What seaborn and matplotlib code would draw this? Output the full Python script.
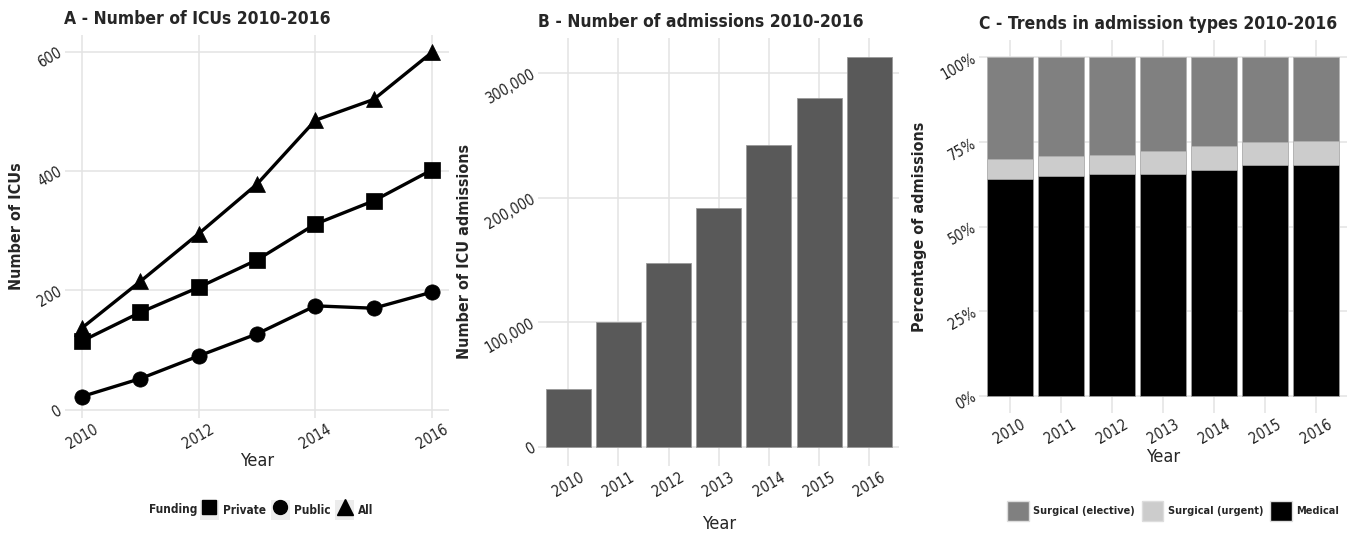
import numpy as np
import pandas as pd
import matplotlib
matplotlib.use("Agg")
import matplotlib.pyplot as plt
from matplotlib.patches import Rectangle
from matplotlib.lines import Line2D
from matplotlib.legend_handler import HandlerTuple
from matplotlib.ticker import FuncFormatter
import seaborn as sns

# ---- data ----
years = [2010, 2011, 2012, 2013, 2014, 2015, 2016]
funding_levels = ["Private", "Public", "All"]
icus_private = [115, 163, 205, 251, 311, 350, 402]
icus_public = [22, 52, 90, 127, 174, 170, 197]
icus_all = [137, 215, 295, 378, 485, 520, 599]

admissions = [46400, 100500, 147400, 192000, 242400, 280500, 313000]

admission_types = ["Surgical (elective)", "Surgical (urgent)", "Medical"]
pct_medical = [64.1, 65.0, 65.5, 65.5, 66.7, 68.3, 68.3]
pct_urgent = [5.9, 5.9, 5.7, 6.8, 7.2, 6.7, 7.0]
pct_elective = [30.0, 29.1, 28.8, 27.7, 26.1, 25.0, 24.7]

# ---- style ----
sns.set_theme(style="whitegrid")
plt.rcParams["font.family"] = ["DejaVu Sans"]
plt.rcParams["font.stretch"] = "condensed"
GRID = "#e3e3e3"
TICK = "#222222"
plt.rcParams.update({
    "grid.color": GRID,
    "grid.linewidth": 1.1,
    "axes.edgecolor": "white",
    "xtick.color": TICK,
    "ytick.color": TICK,
})

W, H = 1349, 533
fig = plt.figure(figsize=(W / 100, H / 100), dpi=100)


def px_axes(left, top, right, bottom):
    return fig.add_axes([left / W, 1 - bottom / H, (right - left) / W, (bottom - top) / H])


axA = px_axes(64.5, 35, 449.5, 418)
axB = px_axes(538, 37.7, 899.4, 466)
axC = px_axes(979, 40.4, 1347, 413)

TITLE_KW = dict(loc="left", fontsize=12.5, fontweight="bold", pad=8)
YLAB_KW = dict(fontsize=11.5, fontweight="bold")
XLAB_KW = dict(fontsize=13)


def style_ticks(ax):
    ax.tick_params(axis="both", length=0, labelsize=10.5, pad=3)
    for lab in ax.get_yticklabels():
        lab.set_rotation(30)
        lab.set_ha("right")
        lab.set_va("center")
        lab.set_rotation_mode("anchor")
    for lab in ax.get_xticklabels():
        lab.set_rotation(30)
        lab.set_ha("center")
        lab.set_va("top")
    for s in ax.spines.values():
        s.set_visible(False)


# ---- A: number of ICUs ----
icu_df = pd.DataFrame({
    "Year": years * 3,
    "ICUs": icus_private + icus_public + icus_all,
    "Funding": np.repeat(funding_levels, len(years)),
})
marker_map = {"Private": "s", "Public": "o", "All": "^"}
sns.lineplot(data=icu_df, x="Year", y="ICUs", style="Funding", style_order=funding_levels,
             markers=marker_map, dashes=False, color="black", linewidth=2.4,
             markersize=11, markeredgecolor="black", markeredgewidth=0.5,
             legend=False, ax=axA)
axA.set_xlim(2009.7, 2016.3)
axA.set_ylim(-14, 628)
axA.set_xticks([2010, 2012, 2014, 2016])
axA.set_yticks([0, 200, 400, 600])
axA.set_title("A - Number of ICUs 2010-2016", **TITLE_KW)
axA.set_ylabel("Number of ICUs", labelpad=8, **YLAB_KW)
axA.set_xlabel("Year", labelpad=0, **XLAB_KW)
style_ticks(axA)

key_bg = "#ececec"
handlesA = []
for lvl in funding_levels:
    bg = Rectangle((0, 0), 1, 1, facecolor=key_bg, edgecolor="none")
    mk = Line2D([], [], linestyle="none", marker=marker_map[lvl], color="black",
                markersize=10 if lvl != "All" else 12)
    handlesA.append((bg, mk))
fig.text(197 / W, 1 - 510 / H, "Funding", fontsize=8.5, fontweight="bold", va="center", ha="right")
fig.legend(handlesA, funding_levels, loc="center left", bbox_to_anchor=(200 / W, 1 - 510 / H),
           ncol=3, frameon=False, handler_map={tuple: HandlerTuple(ndivide=1)},
           handlelength=1.6, handleheight=2.1, handletextpad=0.35, columnspacing=0.4,
           borderpad=0, borderaxespad=0,
           prop={"size": 8.5, "weight": "bold"})

# ---- B: number of admissions ----
year_labels = [str(y) for y in years]
adm_df = pd.DataFrame({"Year": year_labels, "Admissions": admissions})
sns.barplot(data=adm_df, x="Year", y="Admissions", color="#595959", saturation=1,
            width=0.9, edgecolor="#9a9a9a", linewidth=0.6, ax=axB)
axB.xaxis.grid(True)
axB.set_axisbelow(True)
axB.set_xlim(-0.6, 6.6)
axB.set_ylim(-15650, 328650)
axB.set_yticks([0, 100000, 200000, 300000])
axB.yaxis.set_major_formatter(FuncFormatter(lambda v, p: f"{int(v):,}"))
axB.set_title("B - Number of admissions 2010-2016", **TITLE_KW)
axB.set_ylabel("Number of ICU admissions", labelpad=8, **YLAB_KW)
axB.set_xlabel("Year", labelpad=11, **XLAB_KW)
style_ticks(axB)

# ---- C: admission mix (stacked to 100%) ----
mix_df = pd.DataFrame({
    "Year": year_labels,
    "Medical": pct_medical,
    "Urgent": pct_urgent,
    "Elective": pct_elective,
})
mix_df["UrgentTop"] = mix_df["Medical"] + mix_df["Urgent"]
mix_df["ElectiveTop"] = mix_df["UrgentTop"] + mix_df["Elective"]
type_colors = {"Surgical (elective)": "#808080", "Surgical (urgent)": "#cccccc", "Medical": "#000000"}
layer_cols = {"Surgical (elective)": "ElectiveTop", "Surgical (urgent)": "UrgentTop", "Medical": "Medical"}
for t in admission_types:
    sns.barplot(data=mix_df, x="Year", y=layer_cols[t], color=type_colors[t], saturation=1,
                width=0.9, edgecolor="#b0b0b0", linewidth=0.5, ax=axC)
axC.xaxis.grid(True)
axC.set_axisbelow(True)
axC.set_xlim(-0.6, 6.6)
axC.set_ylim(-5, 105)
axC.set_yticks([0, 25, 50, 75, 100])
axC.yaxis.set_major_formatter(FuncFormatter(lambda v, p: f"{int(v)}%"))
axC.set_title("C - Trends in admission types 2010-2016", **TITLE_KW)
axC.set_ylabel("Percentage of admissions", labelpad=8, **YLAB_KW)
axC.set_xlabel("Year", labelpad=1, **XLAB_KW)
style_ticks(axC)

handlesC = [Rectangle((0, 0), 1, 1, facecolor=type_colors[t], edgecolor="#dddddd", linewidth=1)
            for t in admission_types]
fig.legend(handlesC, admission_types, loc="center left", bbox_to_anchor=(1007 / W, 1 - 511 / H),
           ncol=3, frameon=False, handlelength=2.0, handleheight=2.6, handletextpad=0.4,
           columnspacing=0.65, borderpad=0, borderaxespad=0, prop={"size": 7.8, "weight": "bold"})

fig.savefig("out.png", dpi=100)
